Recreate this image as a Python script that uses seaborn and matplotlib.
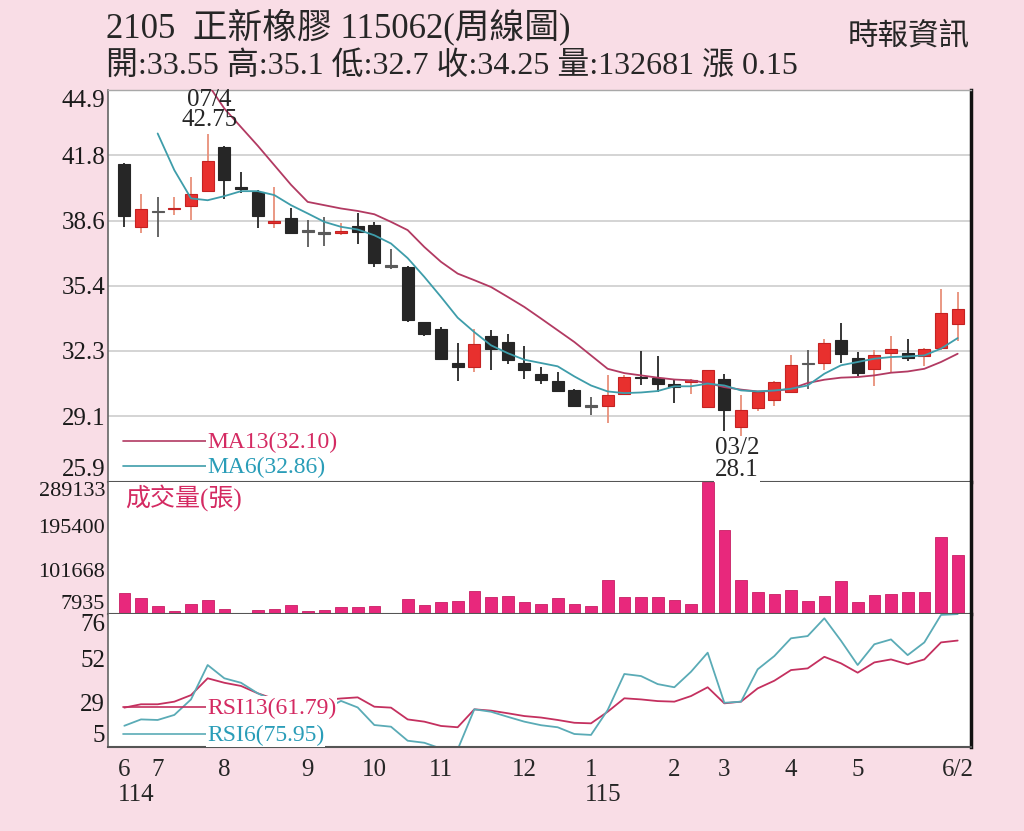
import numpy as np
import pandas as pd
import matplotlib
matplotlib.use("Agg")
import matplotlib.pyplot as plt
from matplotlib.lines import Line2D
from matplotlib.transforms import offset_copy
import seaborn as sns

# weekly candles, 114/06 .. 115/06/2
opens = [41.30, 38.26, 38.99, 39.12, 39.26, 39.99, 42.14, 40.19, 39.96, 38.47,
         38.71, 38.06, 37.96, 37.98, 38.31, 38.37, 36.35, 36.31, 33.63, 33.32,
         31.67, 31.45, 32.95, 32.67, 31.65, 31.13, 30.77, 30.32, 29.56, 29.54,
         30.16, 30.97, 30.94, 30.65, 30.71, 29.51, 30.89, 28.54, 29.46, 29.84,
         30.24, 31.62, 31.65, 32.79, 31.91, 31.38, 32.13, 32.13, 31.97, 32.40,
         33.55]
highs = [41.35, 39.83, 39.71, 39.71, 40.69, 42.75, 42.20, 40.93, 40.04, 40.20,
         39.18, 38.58, 38.74, 38.45, 38.91, 38.50, 37.16, 36.35, 33.65, 33.40,
         32.62, 33.32, 33.27, 33.08, 32.46, 31.45, 31.21, 30.40, 30.00, 31.05,
         31.05, 32.23, 31.97, 30.89, 30.89, 31.33, 31.13, 30.08, 30.27, 30.77,
         32.06, 32.27, 32.83, 33.59, 32.18, 32.27, 32.95, 32.80, 32.40, 35.26,
         35.1]
lows = [38.26, 37.98, 37.77, 38.83, 38.58, 39.95, 39.59, 39.88, 38.18, 38.18,
        37.95, 37.28, 37.33, 37.85, 37.45, 36.31, 36.19, 33.64, 32.98, 31.78,
        30.77, 31.21, 31.33, 31.59, 30.89, 30.61, 30.24, 29.53, 29.11, 28.73,
        30.10, 30.56, 30.24, 29.70, 30.13, 29.50, 28.34, 28.10, 29.30, 29.56,
        30.22, 30.40, 31.33, 31.65, 31.02, 30.52, 31.21, 31.73, 31.49, 32.27,
        32.7]
closes = [38.79, 39.13, 38.99, 39.18, 39.83, 41.46, 40.53, 40.10, 38.79, 38.53,
          37.98, 38.06, 37.96, 38.04, 38.01, 36.48, 36.35, 33.76, 33.08, 31.86,
          31.45, 32.56, 32.35, 31.78, 31.29, 30.84, 30.29, 29.56, 29.56, 30.11,
          30.97, 30.90, 30.61, 30.48, 30.84, 31.29, 29.35, 29.35, 30.24, 30.72,
          31.54, 31.62, 32.62, 32.07, 31.16, 32.06, 32.35, 31.91, 32.35, 34.10,
          34.25]
volume = [52026, 41377, 24336, 13686, 29235, 38394, 17946, 7935, 15816, 17946,
          26466, 14964, 15816, 23484, 23484, 25614, 10065, 39885, 27105, 34134,
          36264, 57564, 44145, 45636, 34134, 29235, 41377, 29235, 25614, 79716,
          44145, 44145, 44145, 38394, 29235, 289133, 185364, 80994, 55434, 51174,
          58416, 36264, 46914, 77586, 33495, 47766, 51174, 54156, 54156, 170454,
          132681]
ma13 = [None] * 5 + [
    45.20, 44.00, 43.10, 42.20, 41.25, 40.30, 39.47, 39.31, 39.15, 39.03,
    38.87, 38.50, 38.10, 37.28, 36.56, 35.99, 35.67, 35.34, 34.86, 34.37,
    33.81, 33.24, 32.67, 32.02, 31.37, 31.16, 31.05, 30.94, 30.85, 30.81,
    30.68, 30.48, 30.36, 30.27, 30.29, 30.40, 30.68, 30.84, 30.94, 30.97,
    31.05, 31.18, 31.24, 31.37, 31.70, 32.10]
ma6 = [None] * 2 + [
    42.79, 41.01, 39.64, 39.55, 39.75, 39.99, 39.99, 39.80, 39.31, 38.91,
    38.50, 38.26, 38.13, 37.85, 37.45, 36.74, 35.83, 34.86, 33.85, 33.15,
    32.51, 32.13, 31.81, 31.65, 31.49, 31.00, 30.56, 30.27, 30.19, 30.22,
    30.29, 30.52, 30.52, 30.65, 30.56, 30.32, 30.27, 30.32, 30.40, 30.56,
    31.13, 31.54, 31.70, 31.86, 31.94, 31.97, 32.02, 32.35, 32.86]
rsi13 = [25.9, 27.7, 27.7, 29.1, 32.6, 41.6, 39.2, 37.5, 33.6, 30.5,
         29.8, 30.2, 30.0, 30.8, 31.4, 26.4, 25.9, 19.6, 18.4, 16.1,
         15.4, 25.0, 24.3, 22.9, 21.4, 20.6, 19.3, 17.8, 17.5, 23.7,
         30.9, 30.3, 29.4, 29.1, 32.1, 36.8, 28.2, 29.1, 36.2, 40.3,
         46.0, 46.9, 53.1, 49.6, 44.6, 50.1, 51.7, 49.1, 51.7, 60.8,
         61.79]
rsi6 = [16.2, 19.6, 19.3, 22.0, 30.3, 48.7, 41.6, 39.2, 33.6, 29.5,
        25.0, 25.5, 24.8, 29.5, 26.0, 16.6, 15.7, 8.2, 7.1, 4.0,
        3.5, 25.0, 23.7, 21.0, 18.4, 16.5, 15.4, 11.8, 11.3, 24.6,
        43.9, 42.8, 38.5, 36.8, 45.1, 55.3, 28.5, 29.1, 46.4, 53.5,
        63.0, 64.2, 73.7, 61.7, 48.7, 59.8, 62.4, 54.0, 60.8, 75.5,
        75.95]

month_weeks = [0, 2, 6, 11, 15, 19, 24, 28, 33, 36, 40, 44, 50]
month_labels = ["6", "7", "8", "9", "10", "11", "12", "1", "2", "3", "4", "5", "6/2"]
year_weeks = [0, 28]
year_labels = ["114", "115"]

price_labels = ["25.9", "29.1", "32.3", "35.4", "38.6", "41.8", "44.9"]
vol_labels = ["7935", "101668", "195400", "289133"]
rsi_labels = ["5", "29", "52", "76"]

high_week, low_week = 5, 37
high_tag, low_tag = "07/4", "03/2"

W, H = 1024, 831
BG = "#F9DDE6"
RED = "#E8302E"
RED_EDGE = "#C42222"
RED_WICK = "#E8907A"
BLACK = "#262626"
GRAY = "#5A5A5A"
PINK = "#E8287C"
MA13_C = "#B23A62"
MA6_C = "#3E9DAA"
RSI13_C = "#C4305F"
RSI6_C = "#5AABB6"
TXT13 = "#D42A62"
TXT6 = "#2A9DB8"

sns.set_style("white")
plt.rcParams["font.family"] = ["Liberation Serif", "Noto Sans CJK TC"]

weeks = np.arange(len(closes))
df = pd.DataFrame({"week": weeks, "open": opens, "high": highs, "low": lows,
                   "close": closes, "volume": volume, "ma13": ma13, "ma6": ma6,
                   "rsi13": rsi13, "rsi6": rsi6})
df[["ma13", "ma6"]] = df[["ma13", "ma6"]].astype(float)

fig = plt.figure(figsize=(W / 100, H / 100), dpi=100, facecolor=BG)


def box(left, top, right, bottom):
    return [left / W, 1 - bottom / H, (right - left) / W, (bottom - top) / H]


def fx(x):
    return x / W


def fy(y):
    return 1 - y / H


ax_p = fig.add_axes(box(108, 90, 971, 481.5))
ax_v = fig.add_axes(box(108, 481.5, 971, 614))
ax_r = fig.add_axes(box(108, 614, 971, 746.7))

# ---- price panel: candles + moving averages
up = df["close"] > df["open"]
flat = df["close"] == df["open"]
body_col = np.where(flat, GRAY, np.where(up, RED, BLACK))
edge_col = np.where(flat, GRAY, np.where(up, RED_EDGE, BLACK))
wick_col = np.where(flat, GRAY, np.where(up, RED_WICK, BLACK))
body_lo = np.minimum(df["open"], df["close"])
body_h = np.abs(df["close"] - df["open"])
min_h = 0.07
body_lo = np.where(body_h < min_h, (df["open"] + df["close"]) / 2 - min_h / 2, body_lo)
body_h = np.maximum(body_h, min_h)

ax_p.vlines(df["week"], df["low"], df["high"], colors=wick_col, lw=1.3, zorder=2)
ax_p.bar(df["week"], body_h, bottom=body_lo, width=0.72, color=body_col,
         edgecolor=edge_col, linewidth=0.8, zorder=3)
sns.lineplot(data=df.dropna(subset=["ma13"]), x="week", y="ma13", ax=ax_p,
             color=MA13_C, lw=1.3, zorder=4)
sns.lineplot(data=df.dropna(subset=["ma6"]), x="week", y="ma6", ax=ax_p,
             color=MA6_C, lw=1.3, zorder=4)

price_ticks = np.linspace(25.9, 44.9, len(price_labels))
ax_p.set_ylim(price_ticks[0], price_ticks[-1])
ax_p.set_yticks(price_ticks, price_labels)
ax_p.yaxis.grid(True, color="#CDCDCD", lw=1.2)
ax_p.set_axisbelow(True)

# ---- volume panel
sns.barplot(data=df, x="week", y="volume", ax=ax_v, color=PINK, saturation=1,
            width=0.7, edgecolor="#C81E64", linewidth=0.6, errorbar=None)
vol_ticks = np.linspace(min(volume), max(volume), len(vol_labels))
ax_v.set_ylim(vol_ticks[0], vol_ticks[-1])
ax_v.set_yticks(vol_ticks, vol_labels)

# ---- RSI panel
sns.lineplot(data=df, x="week", y="rsi13", ax=ax_r, color=RSI13_C, lw=1.3)
sns.lineplot(data=df, x="week", y="rsi6", ax=ax_r, color=RSI6_C, lw=1.3)
rsi_ticks = np.linspace(5, 76, len(rsi_labels))
ax_r.set_ylim(rsi_ticks[0], rsi_ticks[-1])
ax_r.set_yticks(rsi_ticks, rsi_labels)

# ---- shared styling
x_left = -0.98
x_right = len(closes) - 0.2
for ax, size in [(ax_p, 18), (ax_v, 16), (ax_r, 18)]:
    ax.set_facecolor("white")
    ax.set_xlim(x_left, x_right)
    ax.set_xlabel("")
    ax.set_ylabel("")
    ax.tick_params(axis="y", length=0, pad=2, labelsize=size, colors="#1a1a1a")
    labels = ax.get_yticklabels()
    labels[0].set_verticalalignment("bottom")
    labels[-1].set_verticalalignment("top")
    ax.spines["left"].set_color("#666666")
    ax.spines["left"].set_linewidth(1.2)
    ax.spines["right"].set_color("#111111")
    ax.spines["right"].set_linewidth(2.5)
    ax.spines["bottom"].set_color("#555555")
    ax.spines["bottom"].set_linewidth(1.5)
    ax.spines["top"].set_visible(False)

ax_p.spines["top"].set_visible(True)
ax_p.spines["top"].set_color("#A8A8A8")
ax_p.spines["top"].set_linewidth(1.0)

for ax in (ax_p, ax_v):
    ax.set_xticks([])
    ax.tick_params(axis="x", bottom=False, labelbottom=False)

ax_r.set_xticks(month_weeks, month_labels)
ax_r.set_xticks(weeks, minor=True)
ax_r.tick_params(axis="x", which="major", direction="inout", length=8, width=1,
                 color="#444444", labelsize=18, pad=5)
ax_r.tick_params(axis="x", which="minor", direction="inout", length=5, width=1,
                 color="#444444")
for wk, lab in zip(year_weeks, year_labels):
    ax_r.annotate(lab, xy=(wk, 0), xycoords=("data", "axes fraction"),
                  xytext=(-4.5, -27), textcoords="offset points",
                  ha="left", va="top", fontsize=18)

# ---- high / low tags
fig.text(high_week, highs[high_week], f"{high_tag}\n{highs[high_week]}",
         transform=offset_copy(ax_p.transData, fig=fig, x=2, y=3, units="dots"),
         ha="center", va="bottom", fontsize=18, linespacing=0.92)
fig.text(low_week, lows[low_week], f"{low_tag}\n{lows[low_week]}",
         transform=offset_copy(ax_p.transData, fig=fig, x=-4, y=-1, units="dots"),
         ha="center", va="top", fontsize=18, linespacing=1.0,
         bbox=dict(facecolor="white", edgecolor="none", pad=0.5))

# ---- in-panel legends
white = dict(facecolor="white", edgecolor="none", pad=0.8)
legend_rows = [
    (441, MA13_C, TXT13, f"MA13({ma13[-1]:.2f})"),
    (466, MA6_C, TXT6, f"MA6({ma6[-1]:.2f})"),
    (707, RSI13_C, TXT13, f"RSI13({rsi13[-1]:.2f})"),
    (734, RSI6_C, TXT6, f"RSI6({rsi6[-1]:.2f})"),
]
for y, lc, tc, text in legend_rows:
    fig.add_artist(Line2D([fx(123), fx(206)], [fy(y), fy(y)], color=lc, lw=1.2,
                          transform=fig.transFigure))
    fig.text(fx(207), fy(y + 1), text, color=tc, fontsize=17, ha="left",
             va="center", bbox=white)

fig.text(fx(125), fy(498), "成交量(張)", color=TXT13, fontsize=18, ha="left",
         va="center")

# ---- header
change = closes[-1] - closes[-2]
fig.text(fx(106), fy(27), "2105  正新橡膠 115062(周線圖)", fontsize=25,
         ha="left", va="center")
fig.text(fx(106), fy(67),
         f"開:{opens[-1]} 高:{highs[-1]} 低:{lows[-1]} 收:{closes[-1]} "
         f"量:{volume[-1]} 漲 {change:.2f}",
         fontsize=23, ha="left", va="center")
fig.text(fx(970), fy(38), "時報資訊", fontsize=22, ha="right", va="center")

fig.savefig("out.png", dpi=100, facecolor=BG)
